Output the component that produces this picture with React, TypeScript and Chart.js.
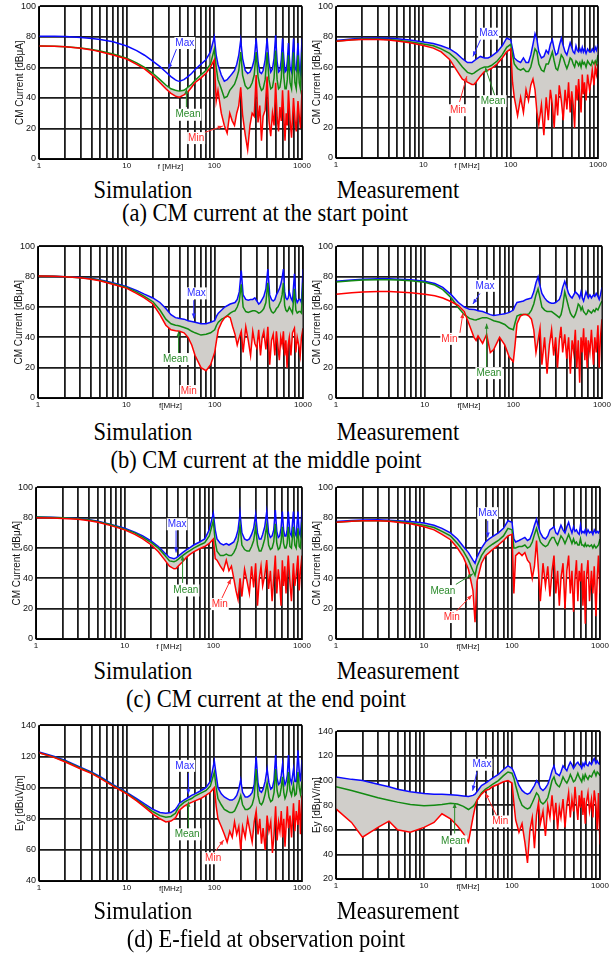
import React, { useEffect, useRef } from "react";
import { Chart, registerables } from "chart.js";
Chart.register(...registerables);

// ---------------- DATA ----------------
const FREQ = [
  1, 1.5, 2, 3, 4, 5, 7, 10,
  13, 16, 20, 24, 28, 32, 36, 38,
  40, 45, 50, 55, 60, 70, 80, 90,
  100, 105, 110, 120, 130, 140, 150, 160,
  170, 180, 190, 200, 210, 225, 240, 255,
  270, 285, 300, 315, 330, 345, 360, 380,
  400, 420, 440, 460, 480, 500, 520, 540,
  560, 580, 600, 620, 640, 660, 680, 700,
  730, 760, 800, 830, 860, 900, 930, 960,
  1000,
];

const X_LABELS = [1, 10, 100, 1000];

// (a) start point - simulation
const A_SIM_MAX = [
  80.5, 80.4, 80.2, 79.6, 79, 78.3, 76.8, 74,
  71, 68, 64, 60.5, 57, 54, 51.8, 51.2,
  51, 52, 54, 56, 58.5, 62, 65, 70,
  80, 68, 62, 55, 51, 52, 54, 56,
  58, 62, 68, 78, 66, 58, 56, 57,
  60, 65, 79, 64, 57, 56, 58, 65,
  79, 63, 57, 59, 66, 81, 64, 57,
  58, 65, 79, 66, 57, 58, 64, 76,
  60, 57, 79, 60, 58, 76, 60, 56,
  79,
];
const A_SIM_MEAN = [
  74, 73.9, 73.6, 72.8, 71.8, 70.8, 68.8, 66,
  63, 60, 56, 52, 48.5, 46, 45, 44.7,
  44.5, 45, 47, 49, 51.5, 55, 58, 62,
  72, 60, 52, 46, 40, 41, 45, 47,
  49, 53, 58, 70, 55, 48, 46, 47,
  50, 55, 70, 54, 48, 45, 46, 52,
  70, 52, 46, 47, 53, 71, 52, 46,
  47, 53, 70, 54, 46, 46, 52, 68,
  50, 46, 70, 50, 46, 68, 50, 46,
  70,
];
const A_SIM_MIN = [
  74, 73.9, 73.5, 72.6, 71.5, 70.3, 68.2, 65.5,
  62, 59, 54.5, 50, 46, 43, 41.2, 40.8,
  40.5, 42, 44, 47, 50, 53, 56, 60,
  65, 38, 45, 30, 22, 17, 30, 25,
  22, 30, 35, 47, 29, 16, 6, 22,
  30, 28, 55, 24, 35, 12, 28, 32,
  54, 25, 15, 30, 22, 50, 28, 18,
  34, 25, 45, 28, 12, 30, 22, 45,
  26, 14, 40, 26, 18, 38, 28, 20,
  45,
];

// (a) start point - measurement
const A_MEAS_MAX = [
  77.5, 78.5, 79, 79.2, 79, 78.6, 77.8, 76.5,
  75.5, 74, 72, 69, 65.5, 63, 63, 64,
  65, 67, 66, 66, 67, 70, 74, 79,
  78, 72, 66, 64, 63, 66, 63, 63,
  68, 75, 82, 78, 70, 66, 67, 71,
  69, 75, 78, 72, 68, 69, 74, 79,
  74, 70, 68, 72, 76, 73, 70, 69,
  74, 71, 70, 72, 70, 73, 70, 72,
  69, 72, 70, 70, 72, 70, 73, 71,
  75,
];
const A_MEAS_MEAN = [
  77, 78, 78.5, 78.5, 78.2, 77.7, 76.7, 75.2,
  74, 72, 69, 65, 60, 56.5, 55.5, 56,
  57, 59, 60, 60, 61, 64, 68, 73,
  75, 68, 62, 59, 58, 59, 57, 57,
  60, 66, 72, 70, 62, 58, 57, 62,
  62, 66, 70, 64, 59, 58, 62, 68,
  66, 62, 59, 62, 66, 65, 62, 60,
  64, 63, 61, 63, 60, 64, 62, 63,
  60, 64, 62, 61, 64, 62, 64, 62,
  68,
];
const A_MEAS_MIN = [
  77, 77.8, 78.2, 78.2, 77.8, 77.2, 76, 74.2,
  72.5, 70, 65, 58, 52, 50, 48.5, 48.5,
  50, 54, 57, 58, 59, 62, 66, 70,
  72, 50, 40, 28, 40, 30, 45, 38,
  48, 52, 45, 30, 22, 35, 15, 40,
  25, 45, 35, 20, 42, 28, 48, 38,
  25, 45, 32, 50, 30, 44, 35, 20,
  48, 38, 52, 40, 30, 55, 42, 50,
  38, 55, 45, 50, 58, 48, 60, 55,
  62,
];

// (b) middle point - simulation
const B_SIM_MAX = [
  80.5, 80.3, 80, 79.5, 78.8, 78, 76, 73.5,
  71, 68.5, 66, 63, 59, 55, 53, 52.8,
  52.5, 52, 51, 50.5, 50, 49, 49, 50,
  51, 54, 56, 58, 60, 61, 62, 62.5,
  63, 65, 70, 84, 68, 65, 64.5, 65,
  65, 66, 64, 62, 63, 65, 67, 72,
  85, 68, 65, 64, 65, 68, 70, 72,
  75, 79, 85, 70, 66, 65, 66, 70,
  66, 64, 82, 66, 63, 65, 65, 63,
  85,
];
const B_SIM_MEAN = [
  80.5, 80.3, 80, 79.4, 78.6, 77.7, 75.5, 73,
  70, 67, 63.5, 58, 52, 49, 48, 47.8,
  47.5, 46.5, 45.5, 44, 43, 41.5, 42, 43,
  45, 48, 50, 52, 53, 54.5, 56, 57,
  57.5, 60, 64, 75, 60, 57, 56.5, 57,
  57.5, 57.5, 57, 56, 56.5, 57.5, 59, 63,
  76, 60, 57, 56, 57, 59, 60, 62,
  64, 68, 76, 61, 58, 57, 58, 60,
  58, 56, 72, 58, 56, 57, 57, 56,
  76,
];
const B_SIM_MIN = [
  80.5, 80.3, 80, 79.3, 78.4, 77.4, 75, 72.5,
  69, 66, 62, 55, 48, 45, 44.3, 44.2,
  44, 43, 40, 35, 28, 20, 18, 22,
  30, 38, 45, 50, 53, 54, 53, 47,
  42, 35, 40, 44, 30, 47, 38, 28,
  44, 36, 33, 45, 28, 40, 44, 32,
  47, 22, 38, 42, 28, 44, 34, 25,
  40, 35, 44, 28, 38, 20, 35, 40,
  28, 43, 46, 30, 40, 34, 28, 40,
  46,
];

// (b) middle point - measurement
const B_MEAS_MAX = [
  77, 77.8, 78.3, 78.6, 78.6, 78.4, 78, 77,
  75.5, 73, 68, 63, 60, 58.5, 58.3, 58,
  57.5, 57, 56, 55, 54.5, 55, 55.5, 56.5,
  58, 61, 63, 63.5, 64, 65, 65.5, 66,
  70, 76, 80, 74, 69, 66, 64, 63,
  62.5, 62.5, 63, 64, 65, 68, 73, 77,
  73, 69, 67, 66, 68, 70, 69, 68,
  66, 70, 66, 64, 67, 70, 68, 66,
  68, 66, 68, 67, 69, 67, 65, 68,
  73,
];
const B_MEAS_MEAN = [
  76.5, 77.3, 77.8, 78, 78, 77.8, 77.3, 76.3,
  74.5, 71.5, 66, 59.5, 55, 52.5, 51.6, 51.5,
  52, 53, 53, 52, 51, 50, 48.5, 46,
  45, 50, 54, 55, 55, 55, 55.5, 58,
  62, 68, 72, 66, 60, 58, 57, 57,
  57, 56, 55, 54, 53, 55, 60, 70,
  65, 60, 56, 54, 53, 55, 58, 62,
  61, 58, 60, 57, 56, 55, 56, 58,
  57, 56, 58, 57, 59, 58, 60, 62,
  64,
];
const B_MEAS_MIN = [
  68.5, 69.5, 70, 70.3, 70.2, 70, 69.5, 68.5,
  67.5, 66, 63.5, 61, 57, 48, 40, 38,
  41, 36, 42, 30, 32, 40, 35, 27,
  24, 36, 49, 54, 55, 55, 54, 52,
  45, 30, 38, 46, 22, 40, 16, 35,
  45, 28, 40, 20, 38, 47, 30, 42,
  26, 40, 16, 38, 30, 45, 20, 38,
  10, 40, 30, 46, 25, 40, 20, 38,
  30, 45, 22, 40, 30, 48, 20, 40,
  52,
];

// (c) end point - simulation
const C_SIM_MAX = [
  80.5, 80.3, 80, 79.5, 78.6, 77.6, 75.6, 73,
  70.5, 68, 64.5, 61, 57, 53.8, 53, 53.5,
  54.5, 57, 59, 60.5, 62, 64, 66, 72,
  83, 72, 66, 63, 62, 63, 62, 63,
  64, 67, 72, 83, 70, 66, 65, 66,
  69, 73, 82, 70, 66, 66, 69, 74,
  84, 70, 67, 68, 72, 85, 71, 67,
  68, 73, 84, 72, 68, 68, 72, 84,
  70, 68, 84, 70, 68, 84, 70, 68,
  85,
];
const C_SIM_MEAN = [
  80.5, 80.2, 80, 79.4, 78.5, 77.4, 75.3, 72.5,
  70, 67, 63.5, 60, 55.5, 51.5, 51, 51.5,
  52.5, 55, 57, 58.5, 60, 62, 63.5, 68,
  78, 64, 58, 55, 55, 56, 55, 55,
  57, 60, 65, 75, 62, 59, 58, 58,
  61, 65, 74, 62, 58, 58, 61, 66,
  75, 62, 59, 60, 64, 76, 63, 59,
  60, 64, 74, 63, 60, 60, 63, 74,
  61, 60, 74, 62, 60, 73, 61, 60,
  77,
];
const C_SIM_MIN = [
  80, 79.8, 79.5, 79, 78, 77, 74.8, 72,
  69, 66, 62, 57.5, 52.5, 48, 46.3, 46.5,
  48, 51, 54, 56, 57.5, 59.5, 61, 63,
  66, 53, 52, 48, 45, 52, 45, 48,
  40, 32, 26, 40, 28, 46, 38, 30,
  48, 34, 50, 22, 40, 48, 35, 42,
  52, 33, 45, 25, 40, 55, 30, 46,
  38, 22, 52, 35, 48, 30, 44, 55,
  38, 25, 50, 35, 42, 55, 32, 45,
  55,
];

// (c) end point - measurement
const C_MEAS_MAX = [
  77.5, 78.2, 78.5, 78.6, 78.4, 78, 77.5, 76.5,
  75, 73, 70, 66, 61, 57, 52, 50,
  54, 60, 64, 66, 67.5, 70, 73, 78,
  77, 66, 64, 65, 66, 67, 65, 66,
  70, 75, 79, 74, 70, 67, 66, 68,
  72, 73, 74, 70, 69, 72, 75, 72,
  70, 74, 77, 73, 70, 74, 71, 72,
  70, 69, 75, 70, 71, 70, 72, 69,
  72, 70, 71, 69, 72, 70, 71, 70,
  72,
];
const C_MEAS_MEAN = [
  77, 77.7, 78, 78, 77.8, 77.5, 76.5, 75,
  73.5, 71, 68, 63, 58, 52, 45, 42,
  48, 55, 59, 61, 62.5, 65, 68, 73,
  72, 60, 60, 61, 61, 62, 60, 61,
  64, 69, 73, 68, 64, 62, 61, 62,
  65, 67, 67, 64, 62, 65, 68, 66,
  63, 66, 69, 66, 63, 66, 63, 64,
  62, 62, 66, 62, 62, 61, 63, 61,
  62, 61, 62, 60, 62, 60, 61, 62,
  66,
];
const C_MEAS_MIN = [
  77, 77.6, 78, 78, 77.6, 77, 76, 74,
  72, 69, 65.5, 60, 54, 46, 32, 11,
  38, 50, 55, 57, 59, 62, 65, 68,
  69, 30, 55, 57, 55, 57, 52, 50,
  40, 48, 65, 45, 25, 50, 35, 48,
  28, 45, 55, 30, 45, 22, 40, 50,
  20, 45, 55, 30, 45, 18, 40, 52,
  25, 45, 38, 50, 22, 45, 10, 40,
  52, 25, 45, 30, 48, 15, 40, 55,
  30,
];

// (d) E-field - simulation
const D_SIM_MAX = [
  123, 120, 117.5, 113, 110, 107, 102, 97,
  93, 89.5, 86, 84, 83.5, 84, 86, 88,
  90, 92, 93.5, 95, 96, 98, 100, 104,
  117, 108, 100, 96, 94, 93, 92, 92,
  93, 95, 99, 105, 97, 94, 94, 95,
  97, 102, 120, 103, 98, 97, 99, 104,
  112, 103, 99, 100, 105, 121, 106, 102,
  103, 108, 115, 106, 102, 104, 108, 121,
  106, 103, 112, 104, 104, 124, 110, 104,
  118,
];
const D_SIM_MEAN = [
  122.5, 119.5, 117, 112.5, 109.5, 106.5, 101.5, 96.5,
  92, 88.5, 84.5, 82, 81, 81.5, 83.5, 86,
  88, 90.5, 92, 93, 94.5, 96.5, 98, 101,
  110, 100, 93, 89, 86, 85, 84, 84,
  85, 88, 91, 95, 89, 86, 86, 87,
  89, 94, 112, 95, 90, 89, 91, 96,
  103, 94, 91, 92, 97, 112, 98, 94,
  95, 100, 107, 97, 93, 95, 99, 110,
  98, 95, 102, 95, 96, 110, 100, 96,
  104,
];
const D_SIM_MIN = [
  122.5, 119.3, 116.5, 112, 109, 106, 101, 96,
  91.5, 87.5, 83, 80, 78, 78.5, 80.5, 83,
  85.5, 88, 89.5, 90.5, 91.5, 93, 95, 97,
  100, 88, 80, 75, 70, 65, 72, 68,
  78, 70, 75, 60, 75, 68, 80, 72,
  65, 78, 85, 70, 80, 64, 74, 60,
  82, 72, 78, 58, 70, 88, 66, 78,
  72, 85, 68, 80, 62, 76, 88, 74,
  82, 68, 90, 72, 85, 76, 92, 70,
  95,
];

// (d) E-field - measurement
const D_MEAS_MAX = [
  103, 101, 100, 97, 95, 93, 91, 89.5,
  89, 89, 88.5, 88, 87.5, 87, 88, 89,
  91, 96, 98, 100, 102, 105, 109, 112,
  110, 107, 103, 96, 92, 90, 89, 90,
  93, 96, 100, 98, 94, 92, 94, 97,
  102, 108, 112, 106, 105, 104, 107, 112,
  110, 108, 112, 115, 113, 110, 112, 114,
  115, 113, 112, 110, 114, 112, 115, 113,
  112, 115, 113, 116, 118, 114, 116, 114,
  113,
];
const D_MEAS_MEAN = [
  95, 92, 89.5, 86, 84, 82.5, 80.5, 79.5,
  80, 80.5, 81.5, 81, 79, 76.5, 79, 81,
  84, 90, 93, 95, 97, 100, 104, 107,
  106, 102, 96, 86, 80, 78, 77, 78,
  82, 86, 90, 88, 83, 81, 83, 86,
  93, 100, 103, 98, 96, 95, 98, 103,
  100, 98, 101, 105, 102, 99, 100, 103,
  106, 103, 101, 99, 104, 101, 105, 103,
  101, 104, 103, 106, 108, 104, 107, 106,
  104,
];
const D_MEAS_MIN = [
  77, 66, 54, 62, 67, 60, 58, 62,
  66, 73, 69, 63, 57, 50, 70, 78,
  84, 89, 92, 93, 95, 97, 99, 100,
  98, 82, 68, 58, 65, 50, 33, 60,
  70, 45, 72, 82, 65, 75, 55, 80,
  70, 88, 68, 82, 60, 78, 70, 85,
  62, 80, 90, 70, 85, 75, 95, 80,
  68, 88, 78, 92, 72, 86, 65, 82,
  90, 75, 85, 70, 92, 80, 60, 90,
  48,
];

// Annotations (data coordinates: label centre, arrow tail, arrow head)
type Note = { kind: "max" | "mean" | "min"; tx: number; ty: number; x1?: number; y1?: number; x2?: number; y2?: number };
const NOTE_TEXT = { max: "Max", mean: "Mean", min: "Min" };

const A_SIM_NOTES: Note[] = [
  { kind: "max", tx: 46, ty: 76, x1: 37, y1: 72, x2: 30, y2: 59 },
  { kind: "mean", tx: 50, ty: 29, x1: 48, y1: 34, x2: 48, y2: 46 },
  { kind: "min", tx: 62, ty: 13.7, x1: 74, y1: 17, x2: 125, y2: 21.6 },
];
const A_MEAS_NOTES: Note[] = [
  { kind: "max", tx: 56, ty: 82, x1: 46, y1: 79, x2: 37, y2: 67 },
  { kind: "mean", tx: 63, ty: 37.5, x1: 66, y1: 41, x2: 51, y2: 60 },
  { kind: "min", tx: 25, ty: 31.5, x1: 26, y1: 37, x2: 31.5, y2: 54 },
];
const B_SIM_NOTES: Note[] = [
  { kind: "max", tx: 62, ty: 69, x1: 58, y1: 64.5, x2: 58, y2: 52.5 },
  { kind: "mean", tx: 36, ty: 25.7, x1: 39, y1: 29.6, x2: 39, y2: 44 },
  { kind: "min", tx: 51, ty: 4.6 },
];
const B_MEAS_NOTES: Note[] = [
  { kind: "max", tx: 48, ty: 74, x1: 42, y1: 69, x2: 35, y2: 62 },
  { kind: "min", tx: 19, ty: 39, x1: 25, y1: 43, x2: 27, y2: 56 },
  { kind: "mean", tx: 53, ty: 16.4, x1: 50, y1: 20, x2: 50, y2: 49 },
];
const C_SIM_NOTES: Note[] = [
  { kind: "max", tx: 39, ty: 75.7, x1: 38, y1: 71.7, x2: 38, y2: 57 },
  { kind: "mean", tx: 49, ty: 32, x1: 45, y1: 37, x2: 45, y2: 55 },
  { kind: "min", tx: 118, ty: 23, x1: 125, y1: 27, x2: 158, y2: 39.5 },
];
const C_MEAS_NOTES: Note[] = [
  { kind: "max", tx: 53, ty: 83, x1: 53, y1: 78, x2: 53, y2: 67 },
  { kind: "mean", tx: 16.4, ty: 31.6, x1: 23, y1: 36, x2: 36, y2: 43 },
  { kind: "min", tx: 20.7, ty: 14.5, x1: 23, y1: 18, x2: 35, y2: 29 },
];
const D_SIM_NOTES: Note[] = [
  { kind: "max", tx: 46, ty: 114, x1: 50.6, y1: 109.3, x2: 50.6, y2: 95.8 },
  { kind: "mean", tx: 49, ty: 70, x1: 50.6, y1: 74, x2: 50.6, y2: 91 },
  { kind: "min", tx: 97, ty: 54.6, x1: 104, y1: 59.5, x2: 128, y2: 66.4 },
];
const D_MEAS_NOTES: Note[] = [
  { kind: "max", tx: 45.6, ty: 112.9, x1: 40, y1: 107.5, x2: 35.7, y2: 91.8 },
  { kind: "mean", tx: 21.7, ty: 50.6, x1: 22.3, y1: 57, x2: 22.3, y2: 81.7 },
  { kind: "min", tx: 73.5, ty: 66.8, x1: 67.5, y1: 71, x2: 49.8, y2: 90 },
];

// ---------------- STYLE / LAYOUT ----------------
const BLUE = "#0a0aff";
const GREEN = "#128a12";
const RED = "#ff0000";
const NOTE_COLOR = { max: "#2b2bff", mean: "#2a8a2a", min: "#ff2a2a" };
const GRAY_RGB = "208,206,202";
const GRID = "#1c1c1c";
const SANS = "Arial, 'Liberation Sans', sans-serif";
const SERIF = "'Liberation Serif', 'Times New Roman', serif";

const PAD_L = 4;
const Y_W = 26;
const PAD_R = 14;
const PAD_T = 8;
const X_H = 14;
const PAD_B = 2;

type PanelDef = {
  rect: { l: number; t: number; r: number; b: number };
  yMin: number;
  yMax: number;
  yTitle: string;
  xTitle: string;
  max: number[];
  mean: number[];
  min: number[];
  notes: Note[];
  upperFrom?: number;
  lowerFrom?: number;
};

const PANELS: PanelDef[] = [
  { rect: { l: 39, t: 6, r: 302, b: 159 }, yMin: 0, yMax: 100, yTitle: "CM Current [dBμA]", xTitle: "f [MHz]", max: A_SIM_MAX, mean: A_SIM_MEAN, min: A_SIM_MIN, notes: A_SIM_NOTES, upperFrom: 95 },
  { rect: { l: 336, t: 6, r: 598, b: 158 }, yMin: 0, yMax: 100, yTitle: "CM Current [dBμA]", xTitle: "f [MHz]", max: A_MEAS_MAX, mean: A_MEAS_MEAN, min: A_MEAS_MIN, notes: A_MEAS_NOTES },
  { rect: { l: 38, t: 246, r: 303, b: 398 }, yMin: 0, yMax: 100, yTitle: "CM Current [dBμA]", xTitle: "f[MHz]", max: B_SIM_MAX, mean: B_SIM_MEAN, min: B_SIM_MIN, notes: B_SIM_NOTES },
  { rect: { l: 336, t: 246, r: 602, b: 398 }, yMin: 0, yMax: 100, yTitle: "CM Current [dBμA]", xTitle: "f[MHz]", max: B_MEAS_MAX, mean: B_MEAS_MEAN, min: B_MEAS_MIN, notes: B_MEAS_NOTES, lowerFrom: 24 },
  { rect: { l: 36, t: 487, r: 302, b: 639 }, yMin: 0, yMax: 100, yTitle: "CM Current [dBμA]", xTitle: "f [MHz]", max: C_SIM_MAX, mean: C_SIM_MEAN, min: C_SIM_MIN, notes: C_SIM_NOTES },
  { rect: { l: 336, t: 487, r: 600, b: 639 }, yMin: 0, yMax: 100, yTitle: "CM Current [dBμA]", xTitle: "f[MHz]", max: C_MEAS_MAX, mean: C_MEAS_MEAN, min: C_MEAS_MIN, notes: C_MEAS_NOTES },
  { rect: { l: 39, t: 725, r: 302, b: 881 }, yMin: 40, yMax: 140, yTitle: "Ey [dBuV/m]", xTitle: "f[MHz]", max: D_SIM_MAX, mean: D_SIM_MEAN, min: D_SIM_MIN, notes: D_SIM_NOTES },
  { rect: { l: 336, t: 731, r: 600, b: 879 }, yMin: 20, yMax: 140, yTitle: "Ey [dBμV/m]", xTitle: "f[MHz]", max: D_MEAS_MAX, mean: D_MEAS_MEAN, min: D_MEAS_MIN, notes: D_MEAS_NOTES },
];

const CAPTIONS = [
  { text: "Simulation", cx: 143, cy: 190 },
  { text: "Measurement", cx: 398, cy: 190 },
  { text: "(a) CM current at the start point", cx: 265, cy: 213 },
  { text: "Simulation", cx: 143, cy: 432 },
  { text: "Measurement", cx: 398, cy: 432 },
  { text: "(b) CM current at the middle point", cx: 266, cy: 460 },
  { text: "Simulation", cx: 143, cy: 671 },
  { text: "Measurement", cx: 398, cy: 671 },
  { text: "(c) CM current at the end point", cx: 266, cy: 699 },
  { text: "Simulation", cx: 143, cy: 911 },
  { text: "Measurement", cx: 398, cy: 911 },
  { text: "(d) E-field at observation point", cx: 266, cy: 939 },
];

function xTickValues(): number[] {
  const out: number[] = [];
  for (let d = 1; d < 1000; d *= 10) for (let m = 1; m < 10; m++) out.push(m * d);
  out.push(1000);
  return out;
}

function fadeFill(startF?: number) {
  return (ctx: any) => {
    const chart = ctx.chart;
    const area = chart.chartArea;
    const solid = `rgba(${GRAY_RGB},1)`;
    if (!startF || !area || !chart.scales.x) return solid;
    const x = chart.scales.x.getPixelForValue(startF);
    const t = Math.min(1, Math.max(0, (x - area.left) / (area.right - area.left)));
    const g = chart.ctx.createLinearGradient(area.left, 0, area.right, 0);
    g.addColorStop(0, `rgba(${GRAY_RGB},0)`);
    g.addColorStop(Math.max(0, t - 0.02), `rgba(${GRAY_RGB},0)`);
    g.addColorStop(t, solid);
    g.addColorStop(1, solid);
    return g;
  };
}

function Panel({ p }: { p: PanelDef }) {
  const ref = useRef<HTMLCanvasElement>(null);
  const w = p.rect.r - p.rect.l + PAD_L + Y_W + PAD_R;
  const h = p.rect.b - p.rect.t + PAD_T + X_H + PAD_B;

  useEffect(() => {
    if (!ref.current) return;
    const ticks = xTickValues();
    const notesPlugin = {
      id: "notes",
      afterDatasetsDraw(chart: any) {
        const { ctx, chartArea } = chart;
        const xs = chart.scales.x;
        const ys = chart.scales.y;
        ctx.save();
        ctx.strokeStyle = "#000";
        ctx.lineWidth = 1;
        ctx.strokeRect(chartArea.left, chartArea.top, chartArea.right - chartArea.left, chartArea.bottom - chartArea.top);
        ctx.font = `10px ${SANS}`;
        for (const n of p.notes) {
          const color = NOTE_COLOR[n.kind];
          if (n.x1 != null && n.y1 != null && n.x2 != null && n.y2 != null) {
            const X1 = xs.getPixelForValue(n.x1);
            const Y1 = ys.getPixelForValue(n.y1);
            const X2 = xs.getPixelForValue(n.x2);
            const Y2 = ys.getPixelForValue(n.y2);
            ctx.strokeStyle = color;
            ctx.fillStyle = color;
            ctx.lineWidth = 1;
            ctx.beginPath();
            ctx.moveTo(X1, Y1);
            ctx.lineTo(X2, Y2);
            ctx.stroke();
            const a = Math.atan2(Y2 - Y1, X2 - X1);
            ctx.beginPath();
            ctx.moveTo(X2, Y2);
            ctx.lineTo(X2 - 5 * Math.cos(a) + 2 * Math.sin(a), Y2 - 5 * Math.sin(a) - 2 * Math.cos(a));
            ctx.lineTo(X2 - 5 * Math.cos(a) - 2 * Math.sin(a), Y2 - 5 * Math.sin(a) + 2 * Math.cos(a));
            ctx.closePath();
            ctx.fill();
          }
          const text = NOTE_TEXT[n.kind];
          const X = xs.getPixelForValue(n.tx);
          const Y = ys.getPixelForValue(n.ty);
          const tw = ctx.measureText(text).width;
          ctx.fillStyle = "#fff";
          ctx.fillRect(X - tw / 2 - 1, Y - 6, tw + 2, 12);
          ctx.fillStyle = color;
          ctx.textAlign = "center";
          ctx.textBaseline = "middle";
          ctx.fillText(text, X, Y);
        }
        ctx.restore();
      },
    };

    const pts = (arr: number[]) => FREQ.map((f, i) => ({ x: f, y: arr[i] }));

    const chart = new Chart(ref.current, {
      type: "line",
      data: {
        datasets: [
          { label: "Min", data: pts(p.min), borderColor: RED, borderWidth: 1.5, pointRadius: 0, fill: false, tension: 0 },
          { label: "Mean", data: pts(p.mean), borderColor: GREEN, borderWidth: 1.5, pointRadius: 0, fill: 0, backgroundColor: fadeFill(p.lowerFrom), tension: 0 },
          { label: "Max", data: pts(p.max), borderColor: BLUE, borderWidth: 1.5, pointRadius: 0, fill: 1, backgroundColor: fadeFill(p.upperFrom), tension: 0 },
        ],
      },
      options: {
        animation: false,
        responsive: false,
        devicePixelRatio: 1,
        layout: { padding: { left: PAD_L, top: PAD_T, right: PAD_R, bottom: PAD_B } },
        plugins: {
          legend: { display: false },
          tooltip: { enabled: false },
          filler: { drawTime: "beforeDatasetsDraw" },
        },
        scales: {
          x: {
            type: "logarithmic",
            min: 1,
            max: 1000,
            afterBuildTicks: (s: any) => {
              s.ticks = ticks.map((v) => ({ value: v }));
            },
            afterFit: (s: any) => {
              s.height = X_H;
            },
            ticks: {
              autoSkip: false,
              maxRotation: 0,
              minRotation: 0,
              padding: 2,
              color: "#111",
              font: { family: SANS, size: 8 },
              callback: (v: any) => (X_LABELS.includes(Number(v)) ? String(v) : ""),
            },
            grid: { color: GRID, lineWidth: 1.8, drawTicks: false },
            border: { display: true, color: "#000", width: 1 },
            title: { display: true, text: p.xTitle, color: "#111", font: { family: SANS, size: 8 }, padding: { top: 0, bottom: 1.6 } },
          },
          y: {
            type: "linear",
            min: p.yMin,
            max: p.yMax,
            afterFit: (s: any) => {
              s.width = Y_W;
            },
            ticks: { stepSize: 20, padding: 3, color: "#111", font: { family: SANS, size: 9 } },
            grid: { color: GRID, lineWidth: 1.8, drawTicks: false },
            border: { display: true, color: "#000", width: 1 },
            title: { display: true, text: p.yTitle, color: "#111", font: { family: SANS, size: 10 }, padding: { top: 1, bottom: 0 } },
          },
        },
      } as any,
      plugins: [notesPlugin],
    });
    return () => chart.destroy();
  }, [p]);

  return (
    <canvas
      ref={ref}
      width={w}
      height={h}
      style={{
        position: "absolute",
        left: p.rect.l - PAD_L - Y_W,
        top: p.rect.t - PAD_T,
        width: w,
        height: h,
      }}
    />
  );
}

export default function App() {
  return (
    <div style={{ position: "absolute", left: 0, top: 0, width: 613, height: 957, background: "#fff", overflow: "hidden" }}>
      {PANELS.map((p, i) => (
        <Panel key={i} p={p} />
      ))}
      {CAPTIONS.map((c, i) => (
        <div
          key={"c" + i}
          style={{
            position: "absolute",
            left: c.cx - 200,
            top: c.cy - 13,
            width: 400,
            height: 26,
            lineHeight: "26px",
            textAlign: "center",
            fontFamily: SERIF,
            fontSize: 22.5,
            color: "#000",
            whiteSpace: "nowrap",
            transform: "scaleY(1.15)",
          }}
        >
          {c.text}
        </div>
      ))}
    </div>
  );
}
